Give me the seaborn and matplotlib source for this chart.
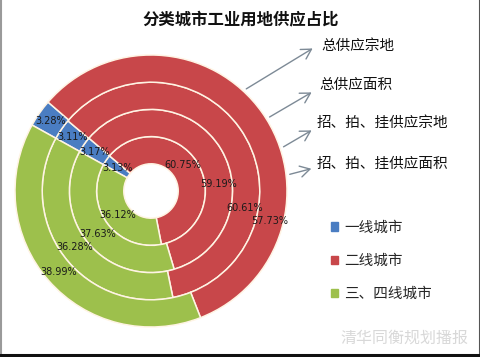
import numpy as np
import pandas as pd
import matplotlib
matplotlib.use('Agg')
import matplotlib.pyplot as plt
import matplotlib.patches as mpatches
from matplotlib.lines import Line2D
import seaborn as sns

# data (percent shares), rings listed from inner to outer
title = '分类城市工业用地供应占比'
city_types = ['一线城市', '二线城市', '三、四线城市']
ring_names = ['总供应宗地', '总供应面积', '招、拍、挂供应宗地', '招、拍、挂供应面积']
total_count = [3.13, 60.75, 36.12]
total_area = [3.17, 59.19, 37.63]
auction_count = [3.11, 60.61, 36.28]
auction_area = [3.28, 57.73, 38.99]

df = pd.DataFrame([total_count, total_area, auction_count, auction_area],
                  index=ring_names, columns=city_types)

sns.set_theme(style='white')
plt.rcParams['font.family'] = ['Noto Sans CJK SC', 'DejaVu Sans']
colors = ['#4A7DC2', '#C8474A', '#9DC04C']

W, H = 481, 357
fig = plt.figure(figsize=(W / 100, H / 100), dpi=100)
fig.patch.set_facecolor('white')


def fpos(x, y):
    # top-left pixel position -> figure fraction
    return x / W, 1 - y / H


cx, cy, R = 151, 191, 136  # pie centre and radius in pixels
ax = fig.add_axes([(cx - R) / W, (H - cy - R) / H, 2 * R / W, 2 * R / H])

first_slice = 299  # excel style first slice angle (clockwise from top)
hole = 0.2
width = (1 - hole) / len(df)
red_label_angle = [51, 84, 100, 104]  # the red labels were dragged in the original

for i, (name, row) in enumerate(df.iterrows()):
    r = hole + width * (i + 1)
    wedges, _ = ax.pie(row.values, radius=r, colors=colors,
                       startangle=90 - first_slice, counterclock=False,
                       wedgeprops=dict(width=width, edgecolor='#FFF4E4', linewidth=1.1))
    rm = r - width / 2
    for j, (w, v) in enumerate(zip(wedges, row.values)):
        if j == 1:
            th = np.deg2rad(90 - red_label_angle[i])
        else:
            th = np.deg2rad((w.theta1 + w.theta2) / 2)
        ax.text(rm * np.cos(th), rm * np.sin(th), f'{v:.2f}%',
                ha='center', va='center', fontsize=7, color='#1a1a1a',
                family='DejaVu Sans')

ax.set_xlim(-1, 1)
ax.set_ylim(-1, 1)
ax.axis('off')

# arrows from the outer edge to the ring names
arrow_angle = [42.7, 58, 71.8, 83.3]
arrow_end = [(315, 47), (314, 91), (314, 129), (314, 168)]
name_pos = [(321, 46), (319, 85), (317, 123), (317, 164)]
for k, name in enumerate(ring_names):
    a = np.deg2rad(arrow_angle[k])
    sx, sy = cx + (R + 1) * np.sin(a), cy - (R + 1) * np.cos(a)
    fig.add_artist(mpatches.FancyArrowPatch(
        fpos(sx, sy), fpos(*arrow_end[k]), transform=fig.transFigure,
        arrowstyle='->,head_length=7,head_width=4', color='#7D8A96', lw=1.0))
    fig.text(*fpos(*name_pos[k]), name, ha='left', va='center',
             fontsize=10.5, color='#111111')

fig.text(*fpos(241, 20), title, ha='center', va='center',
         fontsize=11.8, fontweight='bold', color='#111111')

handles = [mpatches.Patch(color=c) for c in colors]
fig.legend(handles, city_types, loc='center left',
           bbox_to_anchor=fpos(325, 261), frameon=False, fontsize=10.5,
           handlelength=0.5, handleheight=0.5, handletextpad=0.4,
           labelspacing=1.32, borderaxespad=0)

fig.text(*fpos(340, 338), '清华同衡规划播报', ha='left', va='center',
         fontsize=11.5, color='#D8D8D8')

# frame round the picture
fig.add_artist(Line2D([0.002, 0.002], [0, 1], transform=fig.transFigure, color='#9a9a9a', lw=1.5))
fig.add_artist(Line2D([0.997, 0.997], [0, 1], transform=fig.transFigure, color='#555555', lw=1.5))
fig.add_artist(Line2D([0, 1], [0.006, 0.006], transform=fig.transFigure, color='#111111', lw=2.2))

fig.savefig('out.png', dpi=100)
